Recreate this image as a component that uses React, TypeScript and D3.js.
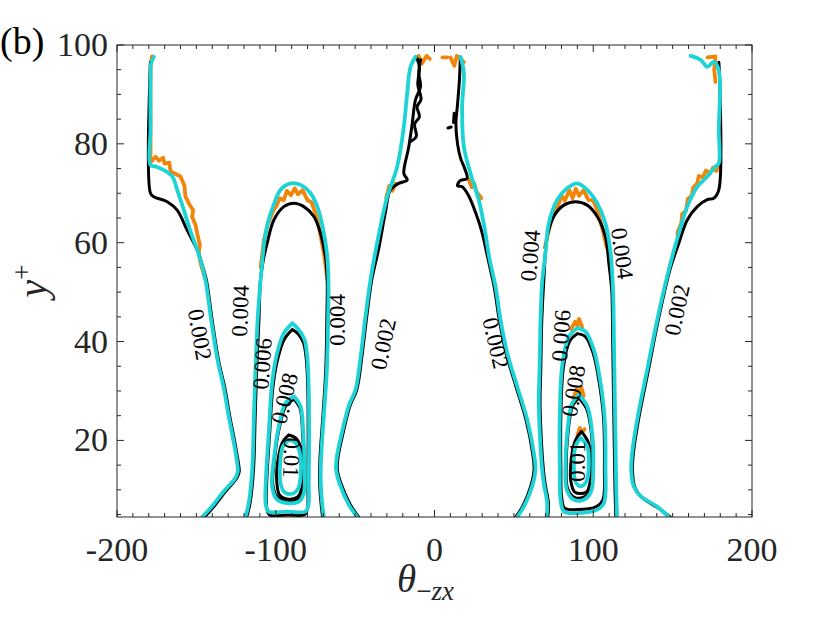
import React from "react";
import * as d3 from "d3";

type Pt = [number, number];

// axis ticks
const xTicks = [-200, -100, 0, 100, 200];
const yTicks = [20, 40, 60, 80, 100];
const xMinor = d3.range(-200, 201, 10);
const yMinor = d3.range(5, 101, 5);

// ---- contour lines as [theta, y+] ----
// left lobe
const cyOuterL: Pt[] = [[-146.3,4.5],[-141.1,6.3],[-132.7,9.7],[-125.4,12.4],[-123.9,13.7],[-124.3,15.4],[-126.4,19.5],[-129.6,24.8],[-132.7,30.5],[-136.5,36],[-140.5,44],[-144.3,52.5],[-147.4,56.5],[-150.5,59.5],[-153.7,62.3],[-157.9,66.6],[-162.1,70.7],[-165.2,73.4],[-170.5,74.7],[-175.7,75.4],[-178.9,75.7],[-178.9,82.8],[-178.9,92.9],[-178.5,96.3],[-176.8,97.6]];
const bkOuterL: Pt[] = [[-144.8,4.5],[-139.8,6.3],[-131.5,9.7],[-124.5,12.4],[-123,13.7],[-123.5,15.4],[-125.7,19.5],[-128.9,24.8],[-132,30.5],[-135.9,36],[-139.9,44],[-143.7,52.5],[-146.3,55.5],[-149.5,58.5],[-155.9,62.6],[-162.1,66.6],[-168.4,68.3],[-176.8,69.3],[-178.9,70],[-178.9,96.5]];
const orOuterL: Pt[] = [[-144.3,52.5],[-147.4,55.9],[-148.5,58],[-147.8,59.5],[-149.5,61.9],[-150.5,63.5],[-152.7,65.3],[-152,66.5],[-154.8,68],[-156.9,69.3],[-157.5,71.5],[-160,73.4],[-163,73.9],[-166.3,74.4],[-167,76.2],[-170,76],[-171,77.2],[-173.5,76.6],[-175.7,77.4],[-178.9,76.2],[-178.9,96],[-178,97.7]];

const cyArchL: Pt[] = [[-119.1,4.5],[-117,7.3],[-114.8,14.1],[-113.8,24.2],[-112.8,34.3],[-111.3,45],[-110.2,50],[-108.8,55],[-107.3,60],[-105,64],[-101.5,67.5],[-97,70.7],[-90.7,72],[-84.4,71.7],[-78.1,70],[-73.5,67],[-70,62.5],[-67.8,58],[-66.8,52.5],[-67,45],[-67.8,34.3],[-69.7,25],[-71.5,16],[-71.6,11],[-70.8,7.3],[-69.7,4.5]];
const bkArchL: Pt[] = [[-118.3,4.5],[-116.2,7.3],[-114,14.1],[-113,24.2],[-112,34.3],[-110.5,45],[-109.6,52.5],[-107.5,57],[-105.4,59.9],[-101.2,64.6],[-94.9,67.3],[-88.6,68],[-82.3,67.3],[-76,65.3],[-71.8,61.9],[-68.7,57.2],[-67.6,52.5],[-67.8,45],[-68.5,34.3],[-70.3,25],[-72.2,16],[-72.3,11],[-71.5,7.3],[-70.5,4.5]];
const orArchL: Pt[] = [[-109.5,55],[-107.5,60.5],[-105,63.8],[-101.5,66.5],[-99.5,67.5],[-97.5,69],[-95,68.6],[-93,70.5],[-90.5,69.6],[-88,71],[-86,69.8],[-83,70.6],[-80,68.6],[-77.5,68.2],[-74,65],[-71.5,61],[-69.5,57.5],[-67.5,52.5]];

const cyInnerL: Pt[] = [[-48.7,4.5],[-54,7],[-59.5,11],[-62,14.1],[-61.5,16.7],[-58,22],[-54,27],[-49.8,30.2],[-46.5,37],[-43.5,45],[-40.3,52.5],[-35.5,61],[-29.8,69.3],[-23.5,75.4],[-19.3,83.5],[-17.2,90.2],[-15.1,95.6],[-12,97.6]];
const bkInnerL: Pt[] = [[-47.8,4.5],[-53,7],[-58.6,11],[-61.2,14.1],[-60.7,16.7],[-57.2,22],[-53.2,27],[-49,30.2],[-45.7,37],[-42.7,45],[-39.5,52.5],[-35,59],[-31,66],[-27.7,70.7],[-22.5,72],[-17.2,72.7],[-19.3,74],[-16.2,79.4],[-14,84.2],[-12,88.9],[-8.8,91.6],[-9.9,94.3],[-8.8,97]];
const bkTangleL: Pt[] = [[-15,80.5],[-11.5,81.5],[-12.5,84],[-9.5,85.5],[-11,87.5],[-8.5,89],[-10.5,92],[-9.5,95.5],[-11,97.3]];
const orTopL: Pt[] = [[-13,97],[-10,97.8],[-8,96.2],[-5,97.8],[-3,97.2]];
const orInnerL: Pt[] = [[-30.5,69],[-28.5,71.5],[-26.5,70.5],[-24.5,72]];

const cy006L: Pt[] = [[-89.6,43.7],[-94.9,41.7],[-99.1,37.7],[-102.3,31.6],[-104.4,21.5],[-106.3,11.4],[-106.3,7],[-104.5,5.6],[-92.8,5.6],[-81.3,5.6],[-79.4,7],[-79.2,11.4],[-79,20],[-79.2,30],[-80.2,37],[-82,40.5],[-86,42.6],[-89.6,43.7]];
const bk006L: Pt[] = [[-89.6,42.4],[-94.5,40.5],[-98.5,36.8],[-101.7,31],[-103.8,21.5],[-105.7,11.4],[-105.7,6.5],[-103.8,4.9],[-92.8,4.9],[-81.6,5],[-80,6.3],[-79.8,11.4],[-79.6,20],[-79.8,30],[-80.8,36.5],[-82.6,39.8],[-86.3,41.7],[-89.6,42.4]];
const cy008L: Pt[] = [[-88.6,28.9],[-93.9,27.5],[-98.1,22.8],[-101.2,16.1],[-102.3,10.7],[-99.1,8],[-92.8,7.3],[-85.5,7.6],[-82.3,9.3],[-81.9,14.7],[-82.7,21.5],[-84.4,26.9],[-88.6,28.9]];
const bk008L: Pt[] = [[-88.6,28.4],[-93.6,27],[-97.7,22.6],[-100.8,16.1],[-101.8,11],[-98.9,8.5],[-92.8,7.8],[-85.7,8.1],[-82.7,9.7],[-82.3,14.7],[-83.1,21.5],[-84.7,26.5],[-88.6,28.4]];
const cy010L: Pt[] = [[-91.8,20.1],[-95.5,18.8],[-97.3,14.7],[-97,11.4],[-94.5,9.5],[-89.6,9.2],[-86,10.2],[-84.2,13.4],[-84.8,17.4],[-87.8,19.6],[-91.8,20.1]];
const bk010L: Pt[] = [[-91.8,21.1],[-95.8,19.6],[-98.6,16],[-99.4,12],[-97.5,8.9],[-92,8.1],[-86,8.6],[-83.2,11],[-83,15],[-84.2,18.5],[-87.5,20.5],[-91.8,21.1]];

// right lobe
const cyInnerR: Pt[] = [[52.1,4.5],[56.3,6.6],[61.5,10.7],[63.6,14.1],[62.6,17.4],[58.4,24.2],[52.1,30.9],[45.8,37.7],[41.6,44.4],[38.5,51],[34.5,57],[31.5,63],[28,68.5],[22.7,74],[18.5,79.4],[17.4,87.5],[18.5,94.3],[16.4,97.6]];
const bkInnerR: Pt[] = [[51.2,4.5],[55.4,6.6],[60.6,10.7],[62.7,14.1],[61.8,17.4],[57.6,24.2],[51.3,30.9],[45,37.7],[40.8,44.4],[37.6,51],[33.5,57],[30,62],[26,66],[21.5,69.5],[17.5,71.3],[14.5,71.5],[16,72.5],[20.5,73],[19,75],[16.5,77],[14.5,80],[13.5,84],[14.5,88],[15.5,92],[16,95],[16.2,97]];
const bkDotR: Pt[] = [[8.5,83.2],[10.5,83.4]];
const bkStubR: Pt[] = [[12,84.3],[12.4,86.2]];
const orTopR1: Pt[] = [[5,97.5],[8,97.5]];
const orTopR2: Pt[] = [[10,97.5],[12.5,95.8],[14,97.8],[16.5,97.3],[18.5,96.5]];
const orInnerR: Pt[] = [[21.5,72.8],[23.5,71.2],[25,72],[26.5,70.3],[29.5,69]];

const cyArchR: Pt[] = [[70.6,4.5],[71,7.3],[69,11],[67.8,14.1],[66.3,21.5],[65.7,27.5],[66.2,35],[66.8,44.4],[67.8,52],[69.9,57.9],[72,63.9],[77.3,68.7],[83.6,71],[89.9,72],[96.2,70.7],[102.5,68],[107.7,63.9],[110.9,58],[112.5,50],[113,41],[113.5,30],[114,20],[114.5,10],[115,4.5]];
const bkArchR: Pt[] = [[71.4,4.5],[71.8,7.3],[69.8,11],[68.6,14.1],[67.1,21.5],[66.5,27.5],[67,35],[67.6,44.4],[68.8,52],[71,61.2],[75.1,65.3],[81.5,67.6],[88.8,68.3],[96.2,67.6],[102.5,65.3],[107.7,61.2],[109.8,55.9],[111.7,50],[112.2,41],[112.7,30],[113.2,20],[113.7,10],[114.2,4.5]];
const orArchR: Pt[] = [[69.5,59],[72,62.5],[75,66],[78,67.6],[80,69.6],[82,68.5],[85,70.6],[87,69],[89,70.9],[91,69.5],[94,70.6],[97,68.6],[100,68.6],[103,66.2],[106,62.5],[108.5,59]];

const cyOuterR: Pt[] = [[147.6,4.5],[140.3,6.6],[129.8,8.7],[125.5,10.7],[123.9,14.1],[124.5,17.4],[127.7,24.2],[134,34.3],[140.3,44.4],[147.6,54.5],[153.9,61.9],[159.2,67.3],[165.5,71.3],[171.8,73.4],[177,75.4],[179.1,76.1],[179.1,82.8],[179.1,94.9],[175.9,96.6],[171.8,95.6],[167.6,97],[161.3,97.8]];
const bkOuterR: Pt[] = [[148.5,4.5],[141,6.3],[130.5,8.5],[126.2,10.5],[124.7,14.1],[125.3,17.4],[128.5,24.2],[134.8,34.3],[141,44.4],[148.3,54.5],[153.9,59.9],[159.2,64.6],[165.5,67.3],[171.8,68.7],[175.9,69],[179.1,70.7],[179.1,96.5]];
const orOuterR: Pt[] = [[147.6,54.5],[151,58.5],[153.5,60.5],[153,62],[155.5,64],[156,65.8],[158.5,66.5],[159.5,68.8],[162,69.5],[163,71.2],[165.5,72],[166.5,73.5],[169,73.2],[171,74.6],[173.5,74],[175.5,75.2],[177.5,74.5],[179.1,75.5]];
const orTopRR: Pt[] = [[177,92.5],[176.2,95],[177,97.7],[172,97.5]];

const cy006R: Pt[] = [[89.9,42.7],[84.6,41],[80.4,35],[78.9,24.8],[78.9,14.7],[79.4,8],[81.5,5.6],[89.9,5.3],[102.5,6],[106.7,7.3],[107.7,14.7],[107.1,24.8],[104.6,31.6],[100.4,38.3],[95.1,42],[89.9,42.7]];
const bk006R: Pt[] = [[89.9,41.6],[85,40],[81.1,34.5],[79.6,24.8],[79.6,14.7],[80.1,8.5],[82,6.3],[89.9,6],[102,6.6],[106,7.9],[107,14.7],[106.4,24.8],[104,31.2],[100,37.6],[95,41],[89.9,41.6]];
const or006R: Pt[] = [[86,42.5],[88.5,44],[90,43.2],[91,44.6],[93,43]];
const cy008R: Pt[] = [[90.9,29.2],[86.7,27.5],[83.6,21.5],[82.5,14.7],[83.3,10],[87.8,8],[94.1,8],[98.6,9.6],[100,14.7],[99.3,21.5],[96.2,26.9],[90.9,29.2]];
const bk008R: Pt[] = [[90.9,28.6],[87,27],[84.1,21.5],[83,14.7],[83.8,10.3],[88,8.5],[94,8.5],[98.2,10],[99.5,14.7],[98.8,21.5],[95.8,26.4],[90.9,28.6]];
const or008R: Pt[] = [[87.5,28.5],[89.5,30.4],[91,29.6],[92.5,30.7],[94,29]];
const cy010R: Pt[] = [[92,20.5],[88.8,18.8],[87.8,14.7],[88.8,11.7],[92,10.7],[95.7,11.7],[97.2,14.7],[96.2,18.8],[92,20.5]];
const bk010R: Pt[] = [[92.5,21.8],[88.5,19.8],[85.8,15],[86,11.5],[88.5,9.5],[95.5,9.5],[98,11.5],[98.4,15],[97,19.5],[92.5,21.8]];
const or010R: Pt[] = [[90,21],[91.5,22.5],[93,21.6],[94.5,22.3]];

const orangeLines = [orOuterL, orArchL, orTopL, orInnerL, orTopR1, orTopR2, orInnerR, orArchR, orOuterR, orTopRR, or006R, or008R, or010R];
const blackLines = [bkOuterL, bkArchL, bkInnerL, bkTangleL, bk006L, bk008L, bk010L, bkInnerR, bkDotR, bkStubR, bkArchR, bkOuterR, bk006R, bk008R, bk010R];
const cyanLines = [cyOuterL, cyArchL, cyInnerL, cy006L, cy008L, cy010L, cyInnerR, cyArchR, cyOuterR, cy006R, cy008R, cy010R];

// contour labels: text, theta, y+, rotation
const labelText = ["0.002", "0.004", "0.004", "0.002", "0.006", "0.008", "0.01", "0.002", "0.004", "0.004", "0.002", "0.006", "0.008", "0.01"];
const labelTheta = [-148, -122.2, -60.8, -32.1, -108.3, -94.4, -90.2, 38.4, 60.5, 118.1, 152.9, 79.9, 87.6, 90.1];
const labelY = [41.4, 46.2, 44.4, 39.5, 35.5, 28.5, 16.5, 39.7, 57.4, 57.8, 46.4, 41.2, 30, 15.7];
const labelRot = [80, -88, -90, -78, -86, -76, 92, 77, -85, 82, -78, -86, -80, -90];

const FONT = "'Liberation Serif', 'DejaVu Serif', serif";

export default function App() {
  const W = 830;
  const H = 623;
  const x = d3.scaleLinear().domain([-200, 200]).range([117, 752]);
  const y = d3.scaleLinear().domain([4.5, 100]).range([517, 45]);
  const smooth = d3.line<Pt>().x((d) => x(d[0])).y((d) => y(d[1])).curve(d3.curveCatmullRom.alpha(0.5));
  const rough = d3.line<Pt>().x((d) => x(d[0])).y((d) => y(d[1]));
  const [x0, x1] = x.range();
  const [y0, y1] = y.range();
  const axisColor = "#262626";

  return (
    <svg
      width={W}
      height={H}
      viewBox={`0 0 ${W} ${H}`}
      style={{ position: "absolute", left: 0, top: 0, background: "#fff" }}
    >
      <defs>
        <clipPath id="plotArea">
          <rect x={x0} y={y1} width={x1 - x0} height={y0 - y1} />
        </clipPath>
      </defs>
      <rect width={W} height={H} fill="#fff" />

      <g clipPath="url(#plotArea)" fill="none" strokeLinejoin="round" strokeLinecap="round">
        {orangeLines.map((d, i) => (
          <path key={`o${i}`} d={rough(d) ?? ""} stroke="#f08508" strokeWidth={3.8} />
        ))}
        {blackLines.map((d, i) => (
          <path key={`b${i}`} d={smooth(d) ?? ""} stroke="#000" strokeWidth={3} />
        ))}
        {cyanLines.map((d, i) => (
          <path key={`c${i}`} d={smooth(d) ?? ""} stroke="#1dd3d6" strokeWidth={3.8} />
        ))}
      </g>

      {labelText.map((t, i) => (
        <text
          key={`l${i}`}
          transform={`translate(${x(labelTheta[i])},${y(labelY[i])}) rotate(${labelRot[i]})`}
          textAnchor="middle"
          dominantBaseline="central"
          fontFamily={FONT}
          fontSize={23}
          fill="#000"
        >
          {t}
        </text>
      ))}

      {/* box and ticks */}
      <rect x={x0} y={y1} width={x1 - x0} height={y0 - y1} fill="none" stroke={axisColor} strokeWidth={1} />
      <g stroke={axisColor} strokeWidth={1}>
        {xMinor.map((v) => {
          const len = xTicks.includes(v) ? 7 : 4;
          return (
            <g key={`xt${v}`}>
              <line x1={x(v)} x2={x(v)} y1={y0} y2={y0 - len} />
              <line x1={x(v)} x2={x(v)} y1={y1} y2={y1 + len} />
            </g>
          );
        })}
        {yMinor.map((v) => {
          const len = yTicks.includes(v) ? 7 : 4;
          return (
            <g key={`yt${v}`}>
              <line x1={x0} x2={x0 + len} y1={y(v)} y2={y(v)} />
              <line x1={x1} x2={x1 - len} y1={y(v)} y2={y(v)} />
            </g>
          );
        })}
      </g>

      <g fontFamily={FONT} fontSize={34} fill="#262626">
        {xTicks.map((v) => (
          <text key={`xl${v}`} x={x(v)} y={561} textAnchor="middle">
            {String(v)}
          </text>
        ))}
        {yTicks.map((v) => (
          <text key={`yl${v}`} x={108} y={y(v) + 11} textAnchor="end">
            {String(v)}
          </text>
        ))}
      </g>

      {/* axis labels */}
      <text x={397} y={592} fontFamily={FONT} fill="#262626">
        <tspan fontStyle="italic" fontSize={39}>θ</tspan>
        <tspan fontSize={27} dy={8}>−</tspan>
        <tspan fontStyle="italic" fontSize={27}>zx</tspan>
      </text>
      <text transform="translate(46,281) rotate(-90)" textAnchor="middle" fontFamily={FONT} fill="#262626">
        <tspan fontStyle="italic" fontSize={40}>y</tspan>
        <tspan fontSize={27} dy={-15}>+</tspan>
      </text>

      <text x={0} y={54} fontFamily={FONT} fontSize={38} fill="#000">
        (b)
      </text>
    </svg>
  );
}
